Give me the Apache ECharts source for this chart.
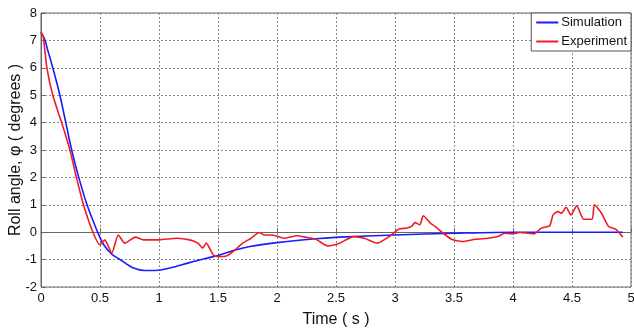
<!DOCTYPE html>
<html><head><meta charset="utf-8">
<script src="https://cdn.jsdelivr.net/npm/echarts@6/dist/echarts.min.js"></script>
<style>html,body{margin:0;padding:0;background:#fff}#c{width:634px;height:330px}</style>
</head><body><div id="c"></div>
<script>
const xTicks = [0, 0.5, 1, 1.5, 2, 2.5, 3, 3.5, 4, 4.5, 5];
const yTicks = [-2, -1, 0, 1, 2, 3, 4, 5, 6, 7, 8];
const simT = [0, 0.03, 0.06, 0.1, 0.16, 0.21, 0.26, 0.32, 0.39, 0.48, 0.53, 0.6, 0.67, 0.78, 0.88, 0.97, 1.1, 1.25, 1.4, 1.5, 1.63, 1.77, 2.0, 2.33, 2.53, 3.0, 3.5, 4.0, 4.5, 4.93];
const simY = [7.3, 7.05, 6.6, 6.0, 5.0, 4.0, 3.0, 2.0, 1.0, 0, -0.45, -0.8, -1.0, -1.3, -1.4, -1.4, -1.3, -1.12, -0.95, -0.85, -0.67, -0.52, -0.38, -0.24, -0.18, -0.1, -0.04, 0, 0, 0];
const expT = [0, 0.02, 0.05, 0.1, 0.175, 0.245, 0.3, 0.36, 0.44, 0.5, 0.54, 0.6, 0.655, 0.71, 0.8, 0.87, 1.0, 1.15, 1.26, 1.33, 1.37, 1.4, 1.46, 1.5, 1.57, 1.63, 1.71, 1.78, 1.85, 1.89, 1.96, 2.06, 2.17, 2.24, 2.33, 2.43, 2.53, 2.65, 2.74, 2.85, 2.96, 3.03, 3.1, 3.14, 3.17, 3.21, 3.24, 3.3, 3.34, 3.4, 3.48, 3.57, 3.68, 3.79, 3.87, 3.93, 3.99, 4.06, 4.13, 4.18, 4.24, 4.31, 4.34, 4.38, 4.41, 4.45, 4.49, 4.54, 4.6, 4.67, 4.69, 4.75, 4.81, 4.87, 4.93];
const expY = [7.3, 7.1, 6.0, 5.0, 4.0, 3.0, 2.0, 1.0, 0, -0.46, -0.28, -0.76, -0.1, -0.4, -0.18, -0.28, -0.28, -0.22, -0.28, -0.4, -0.58, -0.4, -0.83, -0.89, -0.87, -0.7, -0.4, -0.22, -0.01, -0.1, -0.1, -0.22, -0.13, -0.18, -0.26, -0.5, -0.4, -0.16, -0.22, -0.4, -0.13, 0.11, 0.15, 0.21, 0.35, 0.27, 0.6, 0.33, 0.21, -0.01, -0.26, -0.34, -0.26, -0.22, -0.16, -0.04, -0.06, -0.01, -0.04, -0.06, 0.15, 0.23, 0.63, 0.75, 0.69, 0.91, 0.63, 0.96, 0.47, 0.47, 1.0, 0.69, 0.21, 0.11, -0.18];

const font = '"Liberation Sans", Arial, sans-serif';
const chart = echarts.init(document.getElementById('c'), null, {renderer: 'canvas'});
const gridLine = {show: true, lineStyle: {color: '#8a8a8a', type: [2, 2], width: 1}};
chart.setOption({
  animation: false,
  backgroundColor: '#fff',
  grid: {left: 41, right: 3, top: 13, bottom: 43, show: true, borderColor: '#666', borderWidth: 1, containLabel: false, outerBoundsMode: 'none'},
  legend: {
    orient: 'vertical', right: 3, top: 13, padding: [3, 4, 3, 5],
    backgroundColor: '#fff', borderColor: '#555', borderWidth: 1, borderRadius: 0,
    itemWidth: 22, itemHeight: 2, itemGap: 6, icon: 'rect',
    textStyle: {fontFamily: font, fontSize: 13, color: '#111', padding: [0, 0, 0, -2]},
    data: ['Simulation', 'Experiment']
  },
  xAxis: {
    type: 'value', min: xTicks[0], max: xTicks[xTicks.length - 1], interval: 0.5,
    name: 'Time ( s )', nameLocation: 'middle', nameGap: 25,
    nameTextStyle: {fontFamily: font, fontSize: 16, color: '#111'},
    axisLine: {show: true, lineStyle: {color: '#666'}},
    axisTick: {show: true, inside: true, length: 4, lineStyle: {color: '#666'}},
    axisLabel: {fontFamily: font, fontSize: 13, color: '#111', margin: 5, formatter: v => String(v)},
    splitLine: gridLine
  },
  yAxis: {
    type: 'value', min: yTicks[0], max: yTicks[yTicks.length - 1], interval: 1,
    name: 'Roll angle, \u03c6 ( degrees )', nameLocation: 'middle', nameGap: 17, nameRotate: 90,
    nameMoveOverlap: false,
    nameTextStyle: {fontFamily: font, fontSize: 16, color: '#111'},
    axisLine: {show: true, lineStyle: {color: '#666'}},
    axisTick: {show: true, inside: true, length: 4, lineStyle: {color: '#666'}},
    axisLabel: {fontFamily: font, fontSize: 13, color: '#111', margin: 4},
    splitLine: gridLine
  },
  series: [
    {name: 'Simulation', type: 'line', data: simT.map((t, i) => [t, simY[i]]), smooth: 0.3, showSymbol: false,
     lineStyle: {color: '#1a1aff', width: 1.6}, itemStyle: {color: '#1a1aff'}, z: 2},
    {name: 'Experiment', type: 'line', data: expT.map((t, i) => [t, expY[i]]), smooth: 0.2, showSymbol: false,
     lineStyle: {color: '#ee1c25', width: 1.6}, itemStyle: {color: '#ee1c25'}, z: 3}
  ]
});
</script></body></html>
